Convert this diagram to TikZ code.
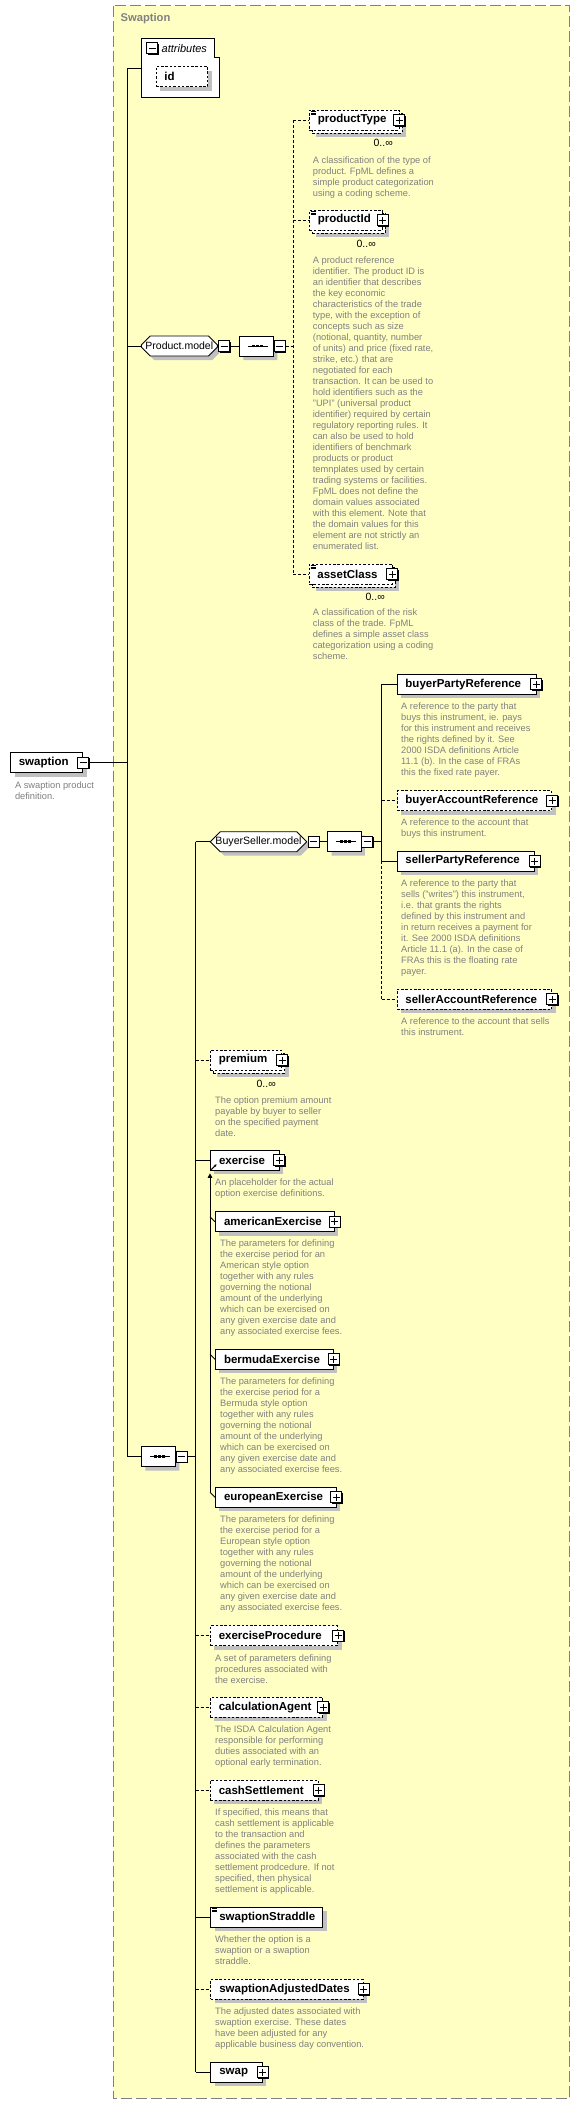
\documentclass[tikz,border=0pt]{standalone}
\usepackage{fontspec}
\setmainfont{Liberation Sans}
\usetikzlibrary{shapes.misc,shadows,calc,arrows.meta}
\definecolor{bgyellow}{RGB}{255,255,196}
\definecolor{descgray}{RGB}{128,128,128}
\definecolor{shgray}{RGB}{192,192,192}
\definecolor{framegray}{RGB}{128,128,128}
\newcommand\descfont{\fontsize{9.3}{11}\selectfont}
\newcommand\elfont{\bfseries\fontsize{11.5}{13}\selectfont}
\newcommand\grpfont{\fontsize{10.5}{12}\selectfont}
\newcommand\simpleicon[1]{\draw[line width=0.6pt] ([xshift=1.8pt,yshift=-1.8pt]#1.north west) -- ++(5pt,0pt) ([xshift=1.8pt,yshift=-3.3pt]#1.north west) -- ++(5pt,0pt) ([xshift=1.8pt,yshift=-4.8pt]#1.north west) -- ++(5pt,0pt);}
\newcommand\seqicon[1]{\draw[line width=0.9pt] ([xshift=-8.5pt]#1.center) -- ([xshift=11.5pt]#1.center);
  \foreach \dx in {-4.3,-0.3,3.7} \fill ([xshift=\dx pt,yshift=-1.4pt]#1.center) rectangle ++(2.8pt,2.8pt);}
\tikzset{
 shd/.style={drop shadow={shadow xshift=4pt, shadow yshift=-4pt, fill=shgray, opacity=1}},
 elbox/.style={draw, fill=white, line width=0.9pt, minimum height=20pt, inner xsep=0pt, inner ysep=0pt, anchor=west, align=left, font=\elfont},
 el/.style={elbox, shd},
 eld/.style={elbox, shd, dash pattern=on 2.5pt off 1.8pt},
 elback/.style={elbox, shd, dash pattern=on 2.5pt off 1.8pt},
 elfront/.style={elbox, dash pattern=on 2.5pt off 1.8pt},
 desc/.style={anchor=north west, inner sep=0pt, align=left, font=\descfont, text=descgray},
 occ/.style={anchor=east, inner sep=0pt, font=\fontsize{10.5}{12}\selectfont},
 pmbase/.style={draw, fill=white, line width=0.9pt, minimum size=11pt, inner sep=0pt, drop shadow={shadow xshift=1pt, shadow yshift=-1pt, fill=black, opacity=1}},
 plusb/.style={pmbase, path picture={\draw[line width=0.9pt] ([xshift=-3.5pt]path picture bounding box.center) -- ([xshift=3.5pt]path picture bounding box.center) ([yshift=-3.5pt]path picture bounding box.center) -- ([yshift=3.5pt]path picture bounding box.center);}},
 minusb/.style={pmbase, path picture={\draw[line width=0.9pt] ([xshift=-3.5pt]path picture bounding box.center) -- ([xshift=3.5pt]path picture bounding box.center);}},
 grp/.style={chamfered rectangle, chamfered rectangle xsep=5pt, chamfered rectangle ysep=5pt, draw, fill=white, line width=0.9pt, minimum height=20pt, inner xsep=0pt, inner ysep=0pt, shd, font=\grpfont},
 conn/.style={line width=0.9pt},
 optc/.style={line width=0.9pt, dash pattern=on 3pt off 2pt},
}
\begin{document}
\begin{tikzpicture}[x=1pt,y=-1pt]
\useasboundingbox (0,0) rectangle (579,2104);
\fill[white] (0,0) rectangle (579,2104);
\fill[bgyellow] (113,5.7) rectangle (569.5,2098);
\draw[framegray, line width=1pt, dash pattern=on 11pt off 4pt] (113,5.7) rectangle (569.5,2098);
\node[anchor=west, inner sep=0pt, text=framegray, font=\bfseries\fontsize{11.2}{13}\selectfont] (title) at (120.4,19) {Swaption};

% attributes
\filldraw[fill=white, line width=0.9pt] (141.9,38.3) -- (214.8,38.3) -- (214.8,57.3) -- (219.3,57.3) -- (219.3,97.3) -- (141.9,97.3) -- cycle;
\coordinate (attrL) at (141.9,68.3);
\node[minusb] (attm) at (152.2,48.3) {};
\node[anchor=west, inner sep=0pt, font=\itshape\fontsize{11}{13}\selectfont] (attt) at (161.5,48.3) {attributes};
\node[eld, text width=51.8pt] (id) at (155.6,76.5) {\hspace*{8.3pt}id};

% swaption
\node[el, text width=71.8pt] (swp) at (10.4,762.5) {\hspace*{8pt}swaption};
\node[minusb] (swpm) at (swp.east) {};
\node[desc] (dswp) at (14.8,781.2) {A swaption product\\definition.};

% main vertical
\coordinate (v1t) at (127,68.3);
\coordinate (v1b) at (127,1456.5);

% Product.model
\node[grp, minimum width=76pt] (pmod) at (179.3,346) {Product.model};
\node[minusb, anchor=west] (pmodm) at ([xshift=0.5pt]pmod.east) {};
\node[grp, minimum width=34pt] (seq1) at (256.3,346) {};
\seqicon{seq1}
\node[minusb, anchor=west] (seq1m) at (seq1.east) {};
\coordinate (pv) at (293.3,120);

\node[elback, text width=89.5pt] (ptB) at (312,123) {};
\node[elfront, text width=89.5pt] (pt) at (309,120) {\hspace*{8.3pt}productType};
\simpleicon{pt}
\node[plusb] (ptp) at (pt.east) {};
\node[occ] (ptocc) at (393,143) {0..∞};
\node[desc] (dpt) at (312.7,156.2) {A classification of the type of\\product. FpML defines a\\simple product categorization\\using a coding scheme.};

\node[elback, text width=73pt] (piB) at (312,223) {};
\node[elfront, text width=73pt] (pi) at (309,220) {\hspace*{8.3pt}productId};
\simpleicon{pi}
\node[plusb] (pip) at (pi.east) {};
\node[occ] (piocc) at (376,244) {0..∞};
\node[desc] (dpi) at (312.7,256.2) {A product reference\\identifier. The product ID is\\an identifier that describes\\the key economic\\characteristics of the trade\\type, with the exception of\\concepts such as size\\(notional, quantity, number\\of units) and price (fixed rate,\\strike, etc.) that are\\negotiated for each\\transaction. It can be used to\\hold identifiers such as the\\"UPI" (universal product\\identifier) required by certain\\regulatory reporting rules. It\\can also be used to hold\\identifiers of benchmark\\products or product\\temnplates used by certain\\trading systems or facilities.\\FpML does not define the\\domain values associated\\with this element. Note that\\the domain values for this\\element are not strictly an\\enumerated list.};

\node[elback, text width=82.8pt] (acB) at (311.7,577) {};
\node[elfront, text width=82.8pt] (ac) at (308.7,574) {\hspace*{8.3pt}assetClass};
\simpleicon{ac}
\node[plusb] (acp) at (ac.east) {};
\node[occ] (acocc) at (385,596.7) {0..∞};
\node[desc] (dac) at (312.7,608.9) {A classification of the risk\\class of the trade. FpML\\defines a simple asset class\\categorization using a coding\\scheme.};

% BuyerSeller.model
\node[grp, minimum width=96.4pt, font=\fontsize{10.6}{12}\selectfont] (bsm) at (258.5,841.7) {BuyerSeller.model};
\node[minusb, anchor=west] (bsmm) at ([xshift=0.5pt]bsm.east) {};
\node[grp, minimum width=33.3pt] (seq2) at (344.3,841.7) {};
\seqicon{seq2}
\node[minusb, anchor=west] (seq2m) at (seq2.east) {};
\coordinate (v3) at (381.7,684.3);

\node[el, text width=138.8pt] (bpr) at (396.7,684.3) {\hspace*{8.3pt}buyerPartyReference};
\node[plusb] (bprp) at (bpr.east) {};
\node[desc] (dbpr) at (401,702.9) {A reference to the party that\\buys this instrument, ie. pays\\for this instrument and receives\\the rights defined by it. See\\2000 ISDA definitions Article\\11.1 (b). In the case of FRAs\\this the fixed rate payer.};

\node[eld, text width=154.5pt] (bar) at (396.7,800.7) {\hspace*{8.3pt}buyerAccountReference};
\node[plusb] (barp) at (bar.east) {};
\node[desc] (dbar) at (401,818.9) {A reference to the account that\\buys this instrument.};

\node[el, text width=137pt] (spr) at (396.7,861) {\hspace*{8.3pt}sellerPartyReference};
\node[plusb] (sprp) at (spr.east) {};
\node[desc] (dspr) at (401,879.9) {A reference to the party that\\sells ("writes") this instrument,\\i.e. that grants the rights\\defined by this instrument and\\in return receives a payment for\\it. See 2000 ISDA definitions\\Article 11.1 (a). In the case of\\FRAs this is the floating rate\\payer.};

\node[eld, text width=154.5pt] (sar) at (396.7,999.3) {\hspace*{8.3pt}sellerAccountReference};
\node[plusb] (sarp) at (sar.east) {};
\node[desc] (dsar) at (401,1017.5) {A reference to the account that sells\\this instrument.};

% bottom sequence
\node[grp, minimum width=34pt] (seq3) at (158.3,1456.5) {};
\seqicon{seq3}
\node[minusb, anchor=west] (seq3m) at (seq3.east) {};
\coordinate (v2) at (195.7,841.7);

\node[elback, text width=71.3pt] (prB) at (213,1063) {};
\node[elfront, text width=71.3pt] (pr) at (210,1060) {\hspace*{8.3pt}premium};
\node[plusb] (prp) at (pr.east) {};
\node[occ] (procc) at (276,1084) {0..∞};
\node[desc] (dpr) at (215,1096.2) {The option premium amount\\payable by buyer to seller\\on the specified payment\\date.};

\node[el, text width=68.5pt] (ex) at (210,1160) {\hspace*{8.6pt}exercise};
\node[plusb] (exp) at (ex.east) {};
\draw[line width=0.9pt, -{Stealth[length=2.6pt,width=2.8pt]}] ($(ex.south west)+(1.2,-0.8)$) -- ++(5.3,-5.3);
\node[desc] (dex) at (215,1178.9) {An placeholder for the actual\\option exercise definitions.};
\coordinate (subt) at (210,1173.3);
\coordinate (subb) at (210,1491.7);

\node[el, text width=118.7pt] (ae) at (215,1221.7) {\hspace*{8.6pt}americanExercise};
\node[plusb] (aep) at (ae.east) {};
\node[desc] (dae) at (220,1239.5) {The parameters for defining\\the exercise period for an\\American style option\\together with any rules\\governing the notional\\amount of the underlying\\which can be exercised on\\any given exercise date and\\any associated exercise fees.};

\node[el, text width=117.8pt] (be) at (215,1359.3) {\hspace*{8.6pt}bermudaExercise};
\node[plusb] (bep) at (be.east) {};
\node[desc] (dbe) at (220,1377.9) {The parameters for defining\\the exercise period for a\\Bermuda style option\\together with any rules\\governing the notional\\amount of the underlying\\which can be exercised on\\any given exercise date and\\any associated exercise fees.};

\node[el, text width=120.5pt] (ee) at (215,1497.3) {\hspace*{8.6pt}europeanExercise};
\node[plusb] (eep) at (ee.east) {};
\node[desc] (dee) at (220,1515.9) {The parameters for defining\\the exercise period for a\\European style option\\together with any rules\\governing the notional\\amount of the underlying\\which can be exercised on\\any given exercise date and\\any associated exercise fees.};

\node[eld, text width=127.2pt] (ep) at (210,1635.7) {\hspace*{8.3pt}exerciseProcedure};
\node[plusb] (epp) at (ep.east) {};
\node[desc] (dep) at (215,1654.2) {A set of parameters defining\\procedures associated with\\the exercise.};

\node[eld, text width=112.2pt] (ca) at (210,1707.3) {\hspace*{8.3pt}calculationAgent};
\node[plusb] (cap) at (ca.east) {};
\node[desc] (dca) at (215,1725.9) {The ISDA Calculation Agent\\responsible for performing\\duties associated with an\\optional early termination.};

\node[eld, text width=107.8pt] (cs) at (210,1790.3) {\hspace*{8.3pt}cashSettlement};
\node[plusb] (csp) at (cs.east) {};
\node[desc] (dcs) at (215,1808.9) {If specified, this means that\\cash settlement is applicable\\to the transaction and\\defines the parameters\\associated with the cash\\settlement prodcedure. If not\\specified, then physical\\settlement is applicable.};

\node[el, text width=112pt] (ss) at (210.3,1917.3) {\hspace*{8.6pt}swaptionStraddle};
\simpleicon{ss}
\node[desc] (dss) at (215,1935.9) {Whether the option is a\\swaption or a swaption\\straddle.};

\node[eld, text width=152.5pt] (sad) at (210.3,1989.3) {\hspace*{8.6pt}swaptionAdjustedDates};
\node[plusb] (sadp) at (sad.east) {};
\node[desc] (dsad) at (215,2007.9) {The adjusted dates associated with\\swaption exercise. These dates\\have been adjusted for any\\applicable business day convention.};

\node[el, text width=51.4pt] (sw) at (210.3,2072.3) {\hspace*{8.6pt}swap};
\node[plusb] (swpp) at (sw.east) {};

% ---------- connectors ----------
\draw[conn] (v1t) -- (v1b);
\draw[conn] (v1t) -- (attrL);
\draw[conn] (swpm.east) -- (swpm.east -| v1t);
\draw[conn] (pmod.west -| v1t) -- (pmod.west);
\draw[conn] (v1b) -- (seq3.west);

\draw[conn] (pmodm.east) -- (seq1.west);
\draw[optc] (seq1m.east) -- (seq1m.east -| pv);
\draw[optc] (pt.west -| pv) -- (ac.west -| pv);
\draw[optc] (pt.west -| pv) -- (pt.west);
\draw[optc] (pi.west -| pv) -- (pi.west);
\draw[optc] (ac.west -| pv) -- (ac.west);

\draw[conn] (seq3m.east) -- (seq3m.east -| v2);
\draw[conn] (v2) -- (sw.west -| v2);
\draw[conn] (v2) -- (bsm.west);
\draw[optc] (pr.west -| v2) -- (pr.west);
\draw[conn] (ex.west -| v2) -- (ex.west);
\draw[optc] (ep.west -| v2) -- (ep.west);
\draw[optc] (ca.west -| v2) -- (ca.west);
\draw[optc] (cs.west -| v2) -- (cs.west);
\draw[conn] (ss.west -| v2) -- (ss.west);
\draw[optc] (sad.west -| v2) -- (sad.west);
\draw[conn] (sw.west -| v2) -- (sw.west);

\draw[conn] (bsmm.east) -- (seq2.west);
\draw[conn] (seq2m.east) -- (seq2m.east -| v3);
\draw[conn] (v3) -- (spr.west -| v3);
\draw[optc] (spr.west -| v3) -- (sar.west -| v3);
\draw[conn] (v3) -- (bpr.west);
\draw[optc] (bar.west -| v3) -- (bar.west);
\draw[conn] (spr.west -| v3) -- (spr.west);
\draw[optc] (sar.west -| v3) -- (sar.west);

\draw[conn, {Triangle[length=4.5pt,width=4.5pt]}-] (subt) -- (subb);
\draw[conn] ($(ae.west -| subt)+(0,-5)$) -- (ae.west);
\draw[conn] ($(be.west -| subt)+(0,-5)$) -- (be.west);
\draw[conn] ($(ee.west -| subt)+(0,-5)$) -- (ee.west);
\end{tikzpicture}
\end{document}
